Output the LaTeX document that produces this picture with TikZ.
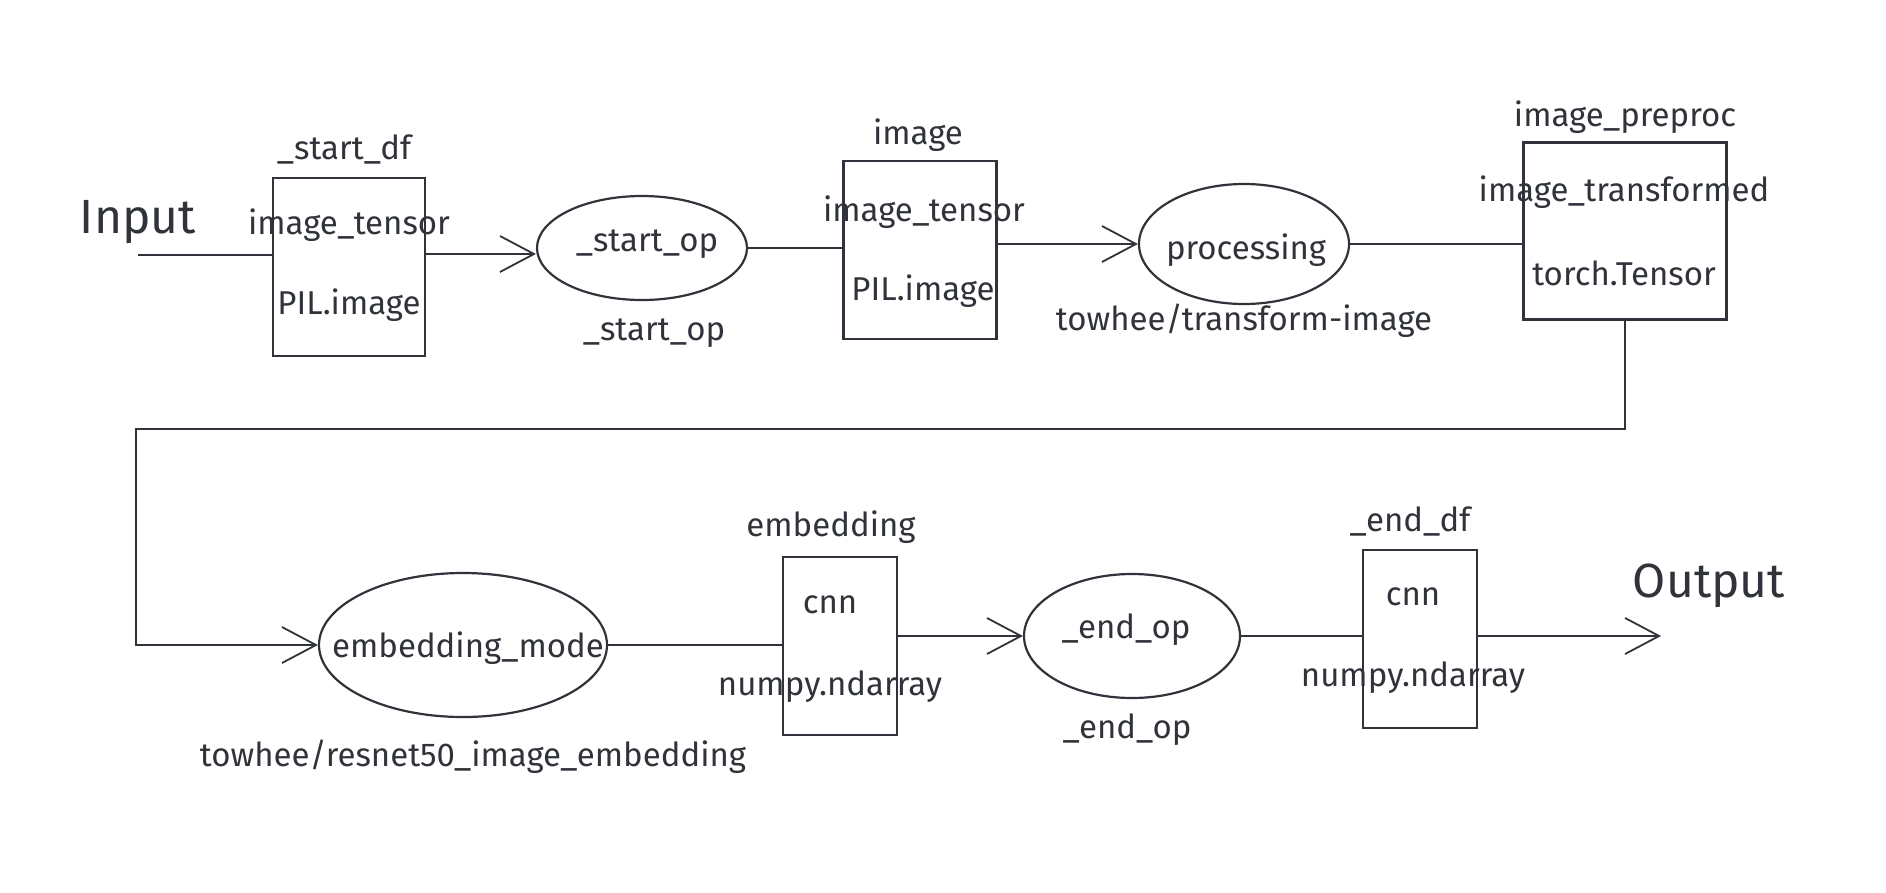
\documentclass[tikz,border=0pt]{standalone}
\usepackage{fontspec}
\setmainfont{Fira Sans}
\usetikzlibrary{arrows.meta,shapes.geometric}
\definecolor{ink}{HTML}{30343A}
\begin{document}
\begin{tikzpicture}[x=1pt,y=-1pt,
  box/.style={draw=ink, line width=2.8pt, inner sep=0pt, minimum height=178pt},
  op/.style={draw=ink, ellipse, line width=2.2pt, inner sep=0pt},
  txt/.style={text=ink, font=\fontsize{33}{38}\selectfont, inner sep=0pt},
  big/.style={text=ink, font=\fontsize{48}{56}\selectfont, inner sep=0pt},
  conn/.style={draw=ink, line width=1.8pt},
  arr/.style={conn, -{Straight Barb[length=34pt,width=36pt,line width=1.8pt]}}
]
\useasboundingbox (0,0) rectangle (1886,892);
% row 1
\node[big] (input) at (138,222) {Input};
\coordinate (instart) at (138,255);
\node[box, minimum width=152pt] (df1) at (349,267) {};
\node[txt] (df1name) at (344,149) {\_start\_df};
\node[txt] (df1a) at (349,225) {image\_tensor};
\node[txt] (df1b) at (349,305) {PIL.image};
\node[op, minimum width=210pt, minimum height=104pt] (op1) at (642,248) {};
\node[txt] (op1t) at (647,244) {\_start\_op};
\node[txt] (op1lab) at (654,333) {\_start\_op};
\node[box, minimum width=153pt] (df2) at (920,250) {};
\node[txt] (df2name) at (918,135) {image};
\node[txt] (df2a) at (924,212) {image\_tensor};
\node[txt] (df2b) at (923,291) {PIL.image};
\node[op, minimum width=210pt, minimum height=120pt] (op2) at (1244,244) {};
\node[txt] (op2t) at (1246,250) {processing};
\node[txt] (op2lab) at (1244,321) {towhee/transform-image};
\node[box, minimum width=203pt, minimum height=177pt] (df3) at (1625,231) {};
\node[txt] (df3name) at (1625,117) {image\_preproc};
\node[txt] (df3a) at (1624,192) {image\_transformed};
\node[txt] (df3b) at (1624,273) {torch.Tensor};
% row 2
\node[op, minimum width=288pt, minimum height=144pt] (op3) at (463,645) {};
\node[txt] (op3t) at (468,648) {embedding\_mode};
\node[txt] (op3lab) at (473,757) {towhee/resnet50\_image\_embedding};
\node[box, minimum width=114pt] (df4) at (840,646) {};
\node[txt] (df4name) at (831,527) {embedding};
\node[txt] (df4a) at (830,605) {cnn};
\node[txt] (df4b) at (830,687) {numpy.ndarray};
\node[op, minimum width=216pt, minimum height=124pt] (op4) at (1132,636) {};
\node[txt] (op4t) at (1126,630) {\_end\_op};
\node[txt] (op4lab) at (1127,730) {\_end\_op};
\node[box, minimum width=114pt] (df5) at (1420,639) {};
\node[txt] (df5name) at (1410,521) {\_end\_df};
\node[txt] (df5a) at (1413,597) {cnn};
\node[txt] (df5b) at (1413,678) {numpy.ndarray};
\node[big] (output) at (1709,586) {Output};
\coordinate (outend) at (1661,636);
\coordinate (c1) at (1625,429);
\coordinate (c2) at (136,429);
\coordinate (c3) at (136,645);
% connectors
\draw[conn] (instart) -- (df1.west |- instart);
\draw[arr] (df1.east |- 0,254) -- (op1.west |- 0,254);
\draw[conn] (op1.east) -- (op1.east -| df2.west);
\draw[arr] (df2.east |- op2.west) -- (op2.west);
\draw[conn] (op2.east) -- (op2.east -| df3.west);
\draw[arr] (df3.south) -- (c1) -- (c2) -- (c3) -- (op3.west);
\draw[conn] (op3.east) -- (op3.east -| df4.west);
\draw[arr] (df4.east |- op4.west) -- (op4.west);
\draw[conn] (op4.east) -- (op4.east -| df5.west);
\draw[arr] (df5.east |- outend) -- (outend);
\end{tikzpicture}
\end{document}
